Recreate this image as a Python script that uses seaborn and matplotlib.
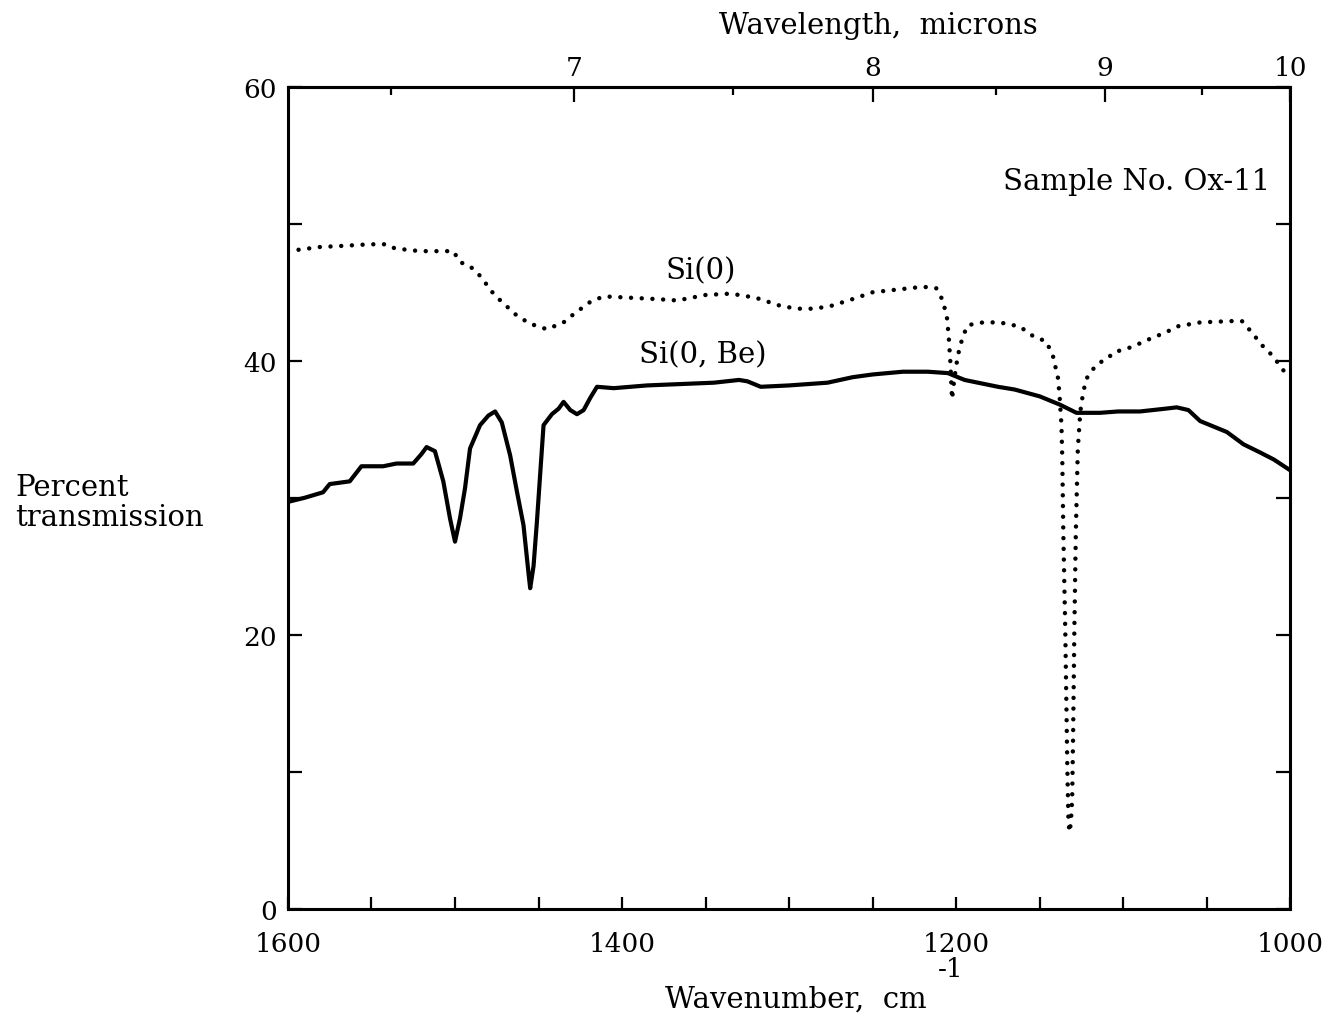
import numpy as np
import pandas as pd
import matplotlib
matplotlib.use("Agg")
import matplotlib.pyplot as plt
import seaborn as sns
from matplotlib.ticker import FixedLocator, NullFormatter

# ---------------- data ----------------
# Si(0, Be): solid curve
wn_be = [1600, 1590, 1579, 1575, 1563, 1556, 1543, 1535, 1525, 1520, 1517, 1512,
         1507, 1503, 1500, 1497, 1494, 1491, 1485, 1480, 1476, 1472, 1467, 1463,
         1459, 1456, 1455, 1453, 1451, 1447, 1442, 1438, 1435, 1431, 1427, 1423,
         1419, 1415, 1405, 1385, 1365, 1345, 1330, 1325, 1317, 1300, 1277, 1262,
         1250, 1232, 1217, 1205, 1195, 1187, 1175, 1165, 1150, 1138, 1128, 1114,
         1103, 1090, 1075, 1068, 1061, 1054, 1046, 1038, 1028, 1018, 1010, 1000]
t_be = [29.7, 30.0, 30.4, 31.0, 31.2, 32.3, 32.3, 32.5, 32.5, 33.2, 33.7, 33.4,
        31.2, 28.5, 26.8, 28.5, 30.7, 33.6, 35.3, 36.0, 36.3, 35.5, 33.1, 30.5,
        28.0, 24.5, 23.4, 25.0, 28.2, 35.3, 36.1, 36.5, 37.0, 36.4, 36.1, 36.4,
        37.3, 38.1, 38.0, 38.2, 38.3, 38.4, 38.6, 38.5, 38.1, 38.2, 38.4, 38.8,
        39.0, 39.2, 39.2, 39.1, 38.6, 38.4, 38.1, 37.9, 37.4, 36.8, 36.2, 36.2,
        36.3, 36.3, 36.5, 36.6, 36.4, 35.6, 35.2, 34.8, 33.9, 33.3, 32.8, 32.0]

# Si(0): dotted curve
wn_o = [1600, 1581, 1565, 1551, 1541, 1536, 1521, 1501, 1497, 1491, 1485, 1477,
        1472, 1463, 1455, 1445, 1435, 1429, 1419, 1411, 1395, 1379, 1367, 1350,
        1335, 1320, 1305, 1295, 1285, 1275, 1262, 1250, 1235, 1220, 1212, 1208,
        1205.5, 1204.5, 1203.5, 1202.5, 1201, 1199, 1196, 1193, 1184, 1174, 1162,
        1154, 1146, 1142, 1139, 1138, 1137, 1136.5, 1135.9, 1134.7, 1134.1, 1133.5,
        1132.9, 1132.3, 1131.4, 1130.6, 1130.0, 1129.3, 1128.4, 1127.2, 1125.7,
        1124, 1122, 1118, 1115, 1109, 1106, 1095, 1084, 1074, 1068, 1054, 1034,
        1029, 1024, 1016, 1010, 1005, 1000]
t_o = [48.0, 48.3, 48.4, 48.5, 48.5, 48.2, 48.0, 48.0, 47.2, 46.9, 46.2, 44.9,
       44.3, 43.3, 42.7, 42.3, 42.8, 43.4, 44.3, 44.7, 44.6, 44.5, 44.4, 44.8,
       44.9, 44.6, 44.0, 43.8, 43.8, 44.0, 44.5, 45.0, 45.2, 45.4, 45.3, 44.4,
       43.1, 41.8, 39.9, 37.2, 38.8, 40.4, 41.8, 42.6, 42.8, 42.8, 42.5,
       41.8, 41.4, 40.3, 38.7, 37.2, 35.3, 32.8, 27.5, 20.2, 15.3, 10.4,
       6.8, 5.6, 6.2, 8.0, 12.9, 20.2, 27.5, 33.6, 36.3,
       37.7, 38.7, 39.4, 39.8, 40.2, 40.6, 41.0, 41.6, 42.1, 42.5, 42.8, 42.9,
       42.9, 42.2, 41.0, 40.3, 39.4, 38.8]

x_major = [1600, 1400, 1200, 1000]
x_minor = [1550, 1500, 1450, 1350, 1300, 1250, 1150, 1100, 1050]
y_major = [0, 20, 40, 60]
y_minor = [10, 30, 50]
wl_major = [7, 8, 9, 10]
wl_minor = [6.5, 7.5, 8.5, 9.5]

# ---------------- style ----------------
sns.set_theme(style="ticks")
plt.rcParams["font.family"] = ["DejaVu Serif"]
plt.rcParams["mathtext.fontset"] = "dejavuserif"
plt.rcParams["axes.linewidth"] = 2.2
plt.rcParams["text.color"] = "black"
plt.rcParams["xtick.color"] = "black"
plt.rcParams["ytick.color"] = "black"

fig = plt.figure(figsize=(13.33, 10.20), dpi=100)
ax = fig.add_axes([0.216, 0.108, 0.752, 0.806])

df_be = pd.DataFrame({"wn": wn_be, "T": t_be})
df_o = pd.DataFrame({"wn": wn_o, "T": t_o})

sns.lineplot(data=df_be, x="wn", y="T", ax=ax, color="black", lw=3.0,
             sort=False, estimator=None)
sns.lineplot(data=df_o, x="wn", y="T", ax=ax, color="black", lw=3.2,
             sort=False, estimator=None, linestyle=(0, (0.01, 2.4)),
             dash_capstyle="round")

ax.set_xlim(1600, 1000)
ax.set_ylim(0, 60)
ax.set_xlabel("")
ax.set_ylabel("")

for s in ax.spines.values():
    s.set_visible(True)
    s.set_linewidth(2.2)
    s.set_color("black")

ax.xaxis.set_major_locator(FixedLocator(x_major))
ax.xaxis.set_minor_locator(FixedLocator(x_minor))
ax.yaxis.set_major_locator(FixedLocator(y_major))
ax.yaxis.set_minor_locator(FixedLocator(y_minor))
ax.yaxis.set_minor_formatter(NullFormatter())
ax.xaxis.set_minor_formatter(NullFormatter())

ax.tick_params(axis="both", which="both", direction="in", width=1.6,
               colors="black", labelsize=19)
ax.tick_params(axis="x", which="both", length=9, top=False, bottom=True, pad=16)
ax.tick_params(axis="y", which="both", length=10, left=True, right=True,
               labelright=False, pad=8)


def inv(x):
    x = np.asarray(x, dtype=float)
    with np.errstate(divide="ignore", invalid="ignore"):
        return np.where(x == 0, np.inf, 1e4 / x)


secax = ax.secondary_xaxis("top", functions=(inv, inv))
secax.xaxis.set_major_locator(FixedLocator(wl_major))
secax.xaxis.set_minor_locator(FixedLocator(wl_minor))
secax.xaxis.set_minor_formatter(NullFormatter())
secax.set_xticklabels([str(v) for v in wl_major])
secax.tick_params(axis="x", which="major", direction="in", length=11, width=1.6,
                  labelsize=19, pad=5, colors="black")
secax.tick_params(axis="x", which="minor", direction="in", length=6, width=1.6,
                  colors="black")
secax.spines["top"].set_linewidth(2.2)

# ---------------- texts ----------------
fs = 21
fig.text(878 / 1333, 1 - 26 / 1020, "Wavelength,  microns", ha="center",
         va="center", fontsize=fs)
fig.text(665 / 1333, 1 - 1000 / 1020, "Wavenumber,  cm", ha="left",
         va="center", fontsize=fs)
fig.text(938 / 1333, 1 - 970 / 1020, "-1", ha="left",
         va="center", fontsize=19)
fig.text(15 / 1333, 1 - 503 / 1020, "Percent\ntransmission", ha="left",
         va="center", fontsize=fs, linespacing=1.1)
fig.text(1270 / 1333, 1 - 182 / 1020, "Sample No. Ox-11", ha="right",
         va="center", fontsize=fs)
ax.text(1353, 46.6, "Si(0)", ha="center", va="center", fontsize=fs)
ax.text(1352, 40.5, "Si(0, Be)", ha="center", va="center", fontsize=fs)

fig.savefig("out.png", dpi=100, facecolor="white")
